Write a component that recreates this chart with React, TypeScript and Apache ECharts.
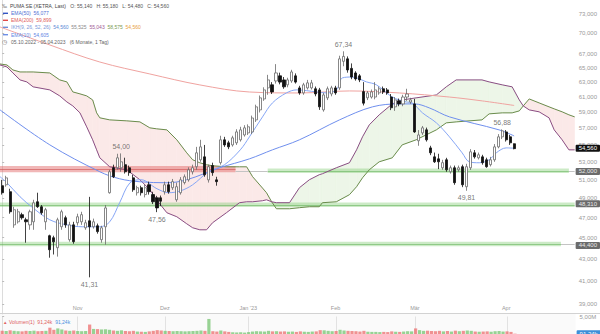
import React, { useEffect, useRef } from 'react';
import * as echarts from 'echarts';

// ---------------- data ----------------
const monthTickIdx = [19, 41, 62, 84, 104, 127];
const monthTickNames = ['Nov', 'Dez', "Jan '23", 'Feb', 'Mär', 'Apr'];
const priceTicks = [73, 70, 67, 65, 63, 61, 59, 57, 55, 53, 51, 49, 47, 45, 43, 41, 39];

// daily OHLC, index 0 = 05.10.2022 ... 129 = 05.04.2023
const opens = [
  50.36, 50.46, 49.71, 46.27, 46.58, 47.3, 46.78, 46.27, 46.58, 48.64,
  48.12, 46.58, 45.2, 45.0, 44.04, 46.08, 46.99, 44.81, 46.27, 46.48,
  46.58, 45.98, 46.68, 46.08, 46.18, 44.81, 46.08, 49.6, 52.35, 52.35,
  52.35, 52.7, 52.35, 51.22, 49.6, 50.14, 49.4, 50.46, 49.4, 49.06,
  49.06, 49.71, 50.46, 50.14, 48.85, 49.6, 50.7, 51.0, 51.9, 52.47,
  53.26, 53.6, 51.0, 52.6, 51.0, 52.93, 55.61, 55.25, 55.0, 55.25,
  55.61, 56.2, 56.45, 56.57, 58.06, 59.33, 60.75, 62.22, 62.63, 63.16,
  63.86, 63.3, 62.63, 63.16, 63.86, 62.22, 61.55, 62.22, 62.22, 62.1,
  61.95, 59.33, 60.89, 61.41, 62.22, 62.22, 65.9, 66.25, 64.9, 64.26,
  63.86, 61.72, 60.9, 61.0, 61.0, 61.55, 62.1, 61.95, 61.0, 59.72,
  60.5, 60.1, 61.0, 60.35, 60.1, 55.5, 56.45, 56.82, 54.65, 53.6,
  53.37, 52.35, 53.26, 51.9, 52.35, 52.12, 52.47, 50.25, 52.35, 54.07,
  53.49, 53.6, 53.26, 52.7, 53.26, 54.77, 55.97, 56.57, 55.97, 55.14,
];
const highs = [
  51.0, 51.45, 50.03, 48.12, 47.9, 47.5, 46.99, 47.81, 48.85, 49.6,
  48.3, 48.0, 45.3, 45.2, 46.99, 47.81, 47.2, 46.58, 46.58, 47.4,
  47.6, 46.78, 49.16, 46.9, 46.4, 46.18, 48.3, 52.12, 52.7, 53.96,
  54.0, 53.5, 52.6, 51.56, 50.36, 50.36, 50.5, 50.8, 49.7, 49.27,
  49.3, 50.8, 50.8, 51.1, 50.7, 51.3, 51.6, 52.4, 52.7, 54.77,
  55.61, 55.0, 52.7, 52.93, 51.34, 56.1, 55.97, 55.5, 56.1, 56.9,
  57.2, 57.4, 57.5, 58.6, 60.0, 61.2, 62.3, 64.0, 63.0, 65.5,
  64.3, 63.7, 63.6, 64.7, 64.2, 62.5, 62.9, 63.3, 63.3, 62.4,
  62.22, 61.55, 62.4, 62.5, 62.5, 66.7, 67.34, 66.6, 65.6, 64.5,
  64.1, 63.0, 61.8, 62.0, 63.0, 62.4, 62.4, 62.2, 61.4, 61.0,
  60.8, 61.3, 62.1, 60.9, 60.75, 56.8, 57.3, 57.1, 54.9, 54.1,
  53.96, 53.26, 53.49, 52.6, 52.6, 52.6, 52.7, 52.8, 54.5, 54.4,
  54.1, 53.84, 53.5, 53.6, 55.1, 56.3, 56.88, 56.8, 56.2, 55.18,
];
const lows = [
  49.4, 50.25, 47.4, 45.98, 46.4, 46.8, 44.52, 45.78, 45.78, 48.0,
  47.3, 45.78, 43.1, 43.4, 43.2, 45.78, 45.98, 44.62, 44.42, 46.2,
  46.27, 45.78, 41.31, 45.9, 45.4, 44.52, 44.33, 49.5, 51.2, 52.12,
  51.9, 51.7, 51.45, 49.7, 49.3, 49.3, 49.1, 49.4, 48.4, 47.56,
  48.2, 49.4, 49.5, 49.9, 48.64, 49.4, 50.5, 50.8, 51.6, 52.12,
  53.03, 51.34, 50.7, 51.45, 50.36, 52.7, 54.77, 54.5, 54.8, 55.0,
  55.4, 56.0, 56.2, 56.3, 57.8, 59.0, 60.5, 61.3, 61.4, 62.8,
  62.7, 62.1, 62.3, 62.9, 62.8, 61.3, 61.3, 62.0, 62.0, 61.1,
  59.33, 59.1, 60.6, 61.1, 61.3, 61.95, 65.2, 64.3, 63.4, 63.2,
  63.0, 59.9, 60.6, 60.8, 60.7, 61.3, 61.4, 61.3, 59.3, 59.2,
  59.8, 59.8, 60.5, 60.1, 56.45, 54.9, 56.2, 55.4, 53.8, 52.9,
  52.2, 52.12, 51.9, 51.7, 50.46, 51.9, 50.2, 49.81, 52.1, 53.4,
  53.3, 52.7, 52.35, 52.5, 53.03, 54.6, 55.7, 55.4, 55.0, 54.48,
];
const closes = [
  49.6, 51.22, 47.6, 47.81, 47.6, 46.99, 46.58, 47.6, 48.53, 48.12,
  47.5, 47.81, 43.85, 44.6, 46.78, 47.6, 46.27, 46.27, 44.62, 47.09,
  47.3, 46.48, 46.08, 46.58, 45.6, 45.98, 48.0, 51.9, 51.34, 53.49,
  53.03, 51.9, 51.8, 49.92, 50.14, 49.6, 50.14, 49.71, 48.64, 48.0,
  48.7, 50.46, 49.71, 50.8, 50.25, 51.0, 51.34, 52.12, 52.35, 54.07,
  54.77, 51.56, 52.47, 51.8, 50.8, 55.61, 55.0, 54.77, 55.85, 56.57,
  56.82, 57.07, 57.2, 58.3, 59.72, 60.89, 61.95, 63.3, 61.68, 64.26,
  63.0, 62.36, 63.3, 64.4, 63.0, 61.55, 62.63, 62.9, 62.9, 61.41,
  59.72, 61.28, 62.1, 62.22, 61.55, 66.25, 66.6, 64.68, 63.7, 63.44,
  63.3, 60.2, 61.55, 61.68, 61.95, 62.1, 61.68, 61.55, 59.6, 60.62,
  60.1, 61.0, 61.4, 60.62, 56.57, 56.2, 57.07, 55.61, 54.07, 53.03,
  53.03, 52.93, 52.12, 52.35, 50.69, 52.35, 50.46, 52.47, 54.19, 53.6,
  53.84, 52.93, 52.47, 53.26, 54.77, 55.97, 56.7, 55.61, 55.25, 54.56,
];
// volume in millions
const volumesM = [
  0.95, 0.85, 1.05, 0.9, 0.8, 0.75, 0.9, 0.85, 0.95, 0.8,
  0.85, 0.9, 1.8, 1.2, 1.6, 1.3, 1.0, 0.9, 1.0, 0.85,
  0.8, 0.85, 2.7, 1.45, 1.4, 1.3, 1.35, 1.2, 1.0, 0.9,
  1.05, 0.85, 0.8, 0.9, 0.7, 0.65, 0.6, 0.75, 0.9, 1.1,
  1.0, 0.9, 0.85, 0.8, 0.85, 0.8, 0.75, 0.8, 0.85, 0.9,
  1.0, 0.9, 4.3, 0.8, 0.7, 1.0, 0.75, 0.6, 0.5, 0.45,
  0.5, 0.4, 0.55, 0.7, 0.8, 0.75, 0.7, 0.9, 0.75, 0.8,
  0.7, 0.75, 0.65, 0.7, 0.6, 0.75, 0.65, 0.6, 0.7, 0.75,
  1.1, 1.05, 0.9, 0.8, 0.85, 1.2, 1.0, 0.9, 0.85, 0.8,
  0.7, 0.9, 0.65, 0.6, 0.6, 0.55, 0.6, 0.55, 0.75, 0.65,
  0.6, 0.7, 0.8, 0.75, 1.6, 1.1, 0.9, 0.95, 0.85, 0.8,
  0.9, 0.75, 0.85, 0.7, 0.95, 0.8, 0.9, 1.0, 0.9, 0.7,
  0.65, 0.7, 0.75, 0.65, 0.8, 0.85, 0.7, 0.75, 0.6, 0.09,
];

// moving averages (read at sample days)
const ema200Idx = [-0.55, 12.0, 24.6, 37.2, 49.8, 62.3, 74.9, 87.5, 100.1, 112.7, 121.0, 129];
const ema200Val = [70.98, 68.27, 65.8, 64.12, 62.62, 61.67, 61.54, 61.81, 61.54, 61.0, 60.49, 59.9];
const ema50Idx = [-0.55, 12.0, 24.6, 29.6, 34.7, 41.5, 46.5, 54.8, 62.3, 68.1, 74.9, 85.0, 93.3, 100.1, 103.9, 107.6, 112.7, 125.2, 129];
const ema50Val = [59.33, 55.01, 51.9, 51.12, 50.79, 50.68, 51.01, 52.35, 53.37, 54.42, 55.61, 58.06, 59.72, 60.1, 60.1, 59.59, 58.44, 56.82, 56.08];
const ema10Idx = [-0.55, 1.2, 4.5, 7.7, 12.0, 16.3, 20.3, 24.6, 27.1, 29.6, 32.2, 35.0, 39.0, 42.0, 45.0, 48.0, 52.0, 56.0, 60.0, 62.3, 65.6, 68.1, 71.6, 74.2, 79.2, 81.7, 84.2, 85.7, 88.2, 91.8, 94.3, 98.3, 101.8, 103.3, 105.9, 109.4, 112.7, 115.9, 117.7, 120.2, 122.7, 124.5, 127.0, 129];
const ema10Val = [51.35, 50.68, 49.17, 48.02, 46.78, 46.27, 46.08, 46.08, 46.58, 48.54, 50.68, 51.01, 50.03, 49.6, 49.81, 50.46, 51.9, 52.69, 54.42, 55.97, 58.44, 60.23, 61.54, 61.95, 61.68, 61.54, 61.95, 63.57, 63.7, 63.03, 62.63, 61.0, 60.36, 60.23, 58.95, 57.69, 55.97, 54.07, 53.03, 52.92, 53.26, 54.07, 54.65, 54.61];

// Ichimoku cloud boundaries (shifted forward), read at sample days
const cloudIdx = [-0.55, 1.2, 2.7, 4.5, 6.2, 7.8, 12.0, 14.5, 16.3, 17.8, 19.6, 21.3, 22.8, 23.8, 24.6, 27.1, 31.4, 34.7, 37.2, 38.9, 41.5, 44.0, 46.5, 48.0, 49.8, 51.5, 53.0, 56.5, 59.8, 61.6, 63.1, 65.6, 66.6, 67.9, 69.1, 72.4, 74.9, 77.4, 79.9, 80.7, 84.2, 87.5, 89.3, 90.8, 92.5, 95.0, 98.3, 100.8, 104.3, 109.4, 111.9, 114.4, 120.9, 122.7, 126.0, 128.5, 130.3, 131.3, 132.8, 135.3, 137.8, 139.1, 141.1, 142.8, 144.25];
const cloudOlive = [65.52, 65.38, 64.68, 64.4, 64.4, 64.4, 64.26, 63.3, 63.03, 61.68, 61.42, 61.15, 60.62, 58.95, 58.32, 58.06, 57.94, 57.81, 57.07, 56.95, 56.82, 55.61, 54.07, 53.26, 52.92, 52.69, 52.58, 52.46, 52.46, 52.46, 51.35, 50.1, 49.6, 48.64, 47.91, 47.91, 48.02, 48.12, 48.12, 48.54, 48.64, 49.39, 50.25, 51.23, 52.12, 53.03, 53.49, 55.01, 55.61, 56.82, 57.69, 57.81, 58.06, 58.82, 58.95, 58.95, 59.2, 59.84, 60.75, 60.23, 59.72, 59.46, 59.08, 58.7, 58.44];
const cloudPurple = [65.38, 65.1, 64.26, 63.3, 63.03, 62.36, 61.95, 61.15, 60.36, 59.84, 58.95, 57.19, 55.61, 54.42, 53.49, 52.46, 52.12, 51.01, 49.92, 48.85, 47.5, 47.09, 46.38, 45.98, 45.78, 45.78, 46.48, 47.5, 48.54, 48.64, 48.64, 48.75, 48.85, 48.64, 48.54, 48.54, 50.14, 51.01, 51.57, 51.68, 52.35, 52.92, 54.42, 55.97, 57.44, 58.7, 60.1, 60.62, 60.89, 61.28, 62.36, 63.3, 63.3, 63.03, 62.63, 62.36, 60.62, 59.84, 59.33, 59.08, 58.32, 56.82, 55.61, 54.42, 54.42];

// annotated extremes
const highLabelIdx = [30, 86, 126];
const highLabelVal = [54.0, 67.34, 56.88];
const lowLabelIdx = [22, 39, 117];
const lowLabelVal = [41.31, 47.56, 49.81];

// support / resistance zones
const zoneStart = [-0.55, 66.9, -0.55, -0.55];
const zoneEnd = [58.8, 142.8, 144.25, 140.8];
const zoneLow = [51.84, 51.75, 48.08, 44.18];
const zoneHigh = [52.55, 52.27, 48.55, 44.62];
const zoneMid = [52.18, 52.0, 48.31, 44.4];
const zoneIsRed = [true, false, false, false];
const connStart = [58.8, 142.8, 140.8];
const connEnd = [66.9, 144.25, 144.25];
const connPrice = [52.0, 52.0, 44.4];

const lastPrice = 54.56;
const levelTags = [52.0, 48.31, 44.4];
const lastVolume = 91240;
const volumeTick = 5e6;

const X_MIN = -0.55;
const X_MAX = 144.25;
const P_MIN = 38.16;
const P_MAX = 75.24;

const FONT = 'Liberation Sans, Arial, Helvetica, sans-serif';

export default function App() {
  const ref = useRef<HTMLDivElement>(null);

  useEffect(() => {
    const el = ref.current;
    if (!el) return;
    const chart = echarts.init(el, null, { renderer: 'svg' });
    const ln = Math.log;
    const fmt3 = (v: number) => v.toFixed(3).replace('.', ',');
    const fmt2 = (v: number) => v.toFixed(2).replace('.', ',');

    const candleData = opens.map((o, i) => [i, ln(o), ln(closes[i]), ln(lows[i]), ln(highs[i])]);
    const volData = volumesM.map((v, i) => ({
      value: [i, v * 1e6],
      itemStyle: { color: closes[i] >= opens[i] ? 'rgba(118,196,112,0.75)' : 'rgba(236,110,110,0.75)' },
    }));
    const cloudSeg: number[][] = [];
    for (let k = 0; k < cloudIdx.length - 1; k++) {
      cloudSeg.push([
        cloudIdx[k], ln(cloudOlive[k]), ln(cloudPurple[k]),
        cloudIdx[k + 1], ln(cloudOlive[k + 1]), ln(cloudPurple[k + 1]),
      ]);
    }
    const lineOf = (idx: number[], vals: number[]) => idx.map((x, k) => [x, ln(vals[k])]);

    const zoneAreas = zoneStart.map((s, k) => [
      { coord: [s, ln(zoneHigh[k])], itemStyle: { color: zoneIsRed[k] ? 'rgba(224,96,96,0.45)' : 'rgba(120,200,105,0.38)' } },
      { coord: [zoneEnd[k], ln(zoneLow[k])] },
    ]);
    const zoneLines = zoneStart.map((s, k) => [
      { coord: [s, ln(zoneMid[k])], lineStyle: { color: zoneIsRed[k] ? 'rgba(205,80,80,0.6)' : 'rgba(95,175,85,0.55)', width: 1, type: 'solid' } },
      { coord: [zoneEnd[k], ln(zoneMid[k])] },
    ]);
    const connLines = connStart.map((s, k) => [
      { coord: [s, ln(connPrice[k])], lineStyle: { color: '#c4c4c4', width: 1, type: 'solid' } },
      { coord: [connEnd[k], ln(connPrice[k])] },
    ]);
    const tagLabel = (text: string, bg: string, fg: string) => ({
      show: true, position: 'end', distance: 1, formatter: text, backgroundColor: bg, color: fg,
      fontSize: 6, fontFamily: FONT, padding: [0.5, 3, 0.5, 3], borderRadius: 1,
    });
    const tags = [
      { yAxis: ln(lastPrice), lineStyle: { color: 'rgba(0,0,0,0)', width: 0 }, label: tagLabel(fmt3(lastPrice), '#111', '#fff') },
      ...levelTags.map((p) => ({ yAxis: ln(p), lineStyle: { color: 'rgba(0,0,0,0)', width: 0 }, label: tagLabel(fmt3(p), '#6b6b6b', '#e8e8e8') })),
    ];

    const extremes = [
      ...highLabelIdx.map((i, k) => ({ value: [i, ln(highLabelVal[k])], name: fmt2(highLabelVal[k]), label: { position: 'top' } })),
      ...lowLabelIdx.map((i, k) => ({ value: [i, ln(lowLabelVal[k])], name: fmt2(lowLabelVal[k]), label: { position: 'bottom' } })),
    ];

    const headerText = (y: number, x: number, text: string, rich: any, size: number, fill: string) => ({
      type: 'text', x, y, z: 100,
      style: { text, fontSize: size, fontFamily: FONT, fill, verticalAlign: 'middle', rich },
    });
    const dash = (y: number, color: string) => ({
      type: 'rect', z: 100, shape: { x: 3, y: y - 0.7, width: 5, height: 1.4 }, style: { fill: color },
    });
    const r = (fill: string) => ({ fill, fontSize: 5, fontFamily: FONT });

    const option: any = {
      animation: false,
      backgroundColor: '#ffffff',
      textStyle: { fontFamily: FONT },
      grid: [
        { left: 0, top: 0, width: 575.6, height: 314 },
        { left: 0, top: 316.5, width: 575.6, height: 17.5 },
      ],
      xAxis: [
        {
          type: 'value', gridIndex: 0, min: X_MIN, max: X_MAX,
          axisLine: { show: false }, axisTick: { show: false }, splitLine: { show: false },
          axisLabel: {
            inside: true, margin: 3, customValues: monthTickIdx,
            formatter: (v: number) => { const k = monthTickIdx.indexOf(v); return k >= 0 ? monthTickNames[k] : ''; },
            fontSize: 5.5, color: '#999', fontFamily: FONT,
          },
        },
        { type: 'value', gridIndex: 1, min: X_MIN, max: X_MAX, show: false },
      ],
      yAxis: [
        {
          type: 'value', gridIndex: 0, position: 'right', min: ln(P_MIN), max: ln(P_MAX),
          splitLine: { show: false },
          axisLine: { show: true, lineStyle: { color: '#dcdcdc' } },
          axisTick: { show: true, length: 2, customValues: priceTicks.map(ln), lineStyle: { color: '#bbbbbb' } },
          axisLabel: {
            customValues: priceTicks.map(ln),
            formatter: (v: number) => `${Math.round(Math.exp(v))},000`,
            fontSize: 6, color: '#999', margin: 4, fontFamily: FONT,
          },
        },
        {
          type: 'value', gridIndex: 1, position: 'right', min: 0, max: volumeTick,
          splitLine: { show: false },
          axisLine: { show: true, lineStyle: { color: '#dcdcdc' } },
          axisTick: { show: true, length: 2, customValues: [volumeTick], lineStyle: { color: '#bbbbbb' } },
          axisLabel: {
            customValues: [volumeTick],
            formatter: (v: number) => `${fmt2(v / 1e6)}M`,
            fontSize: 6, color: '#999', margin: 4, fontFamily: FONT,
          },
        },
      ],
      series: [
        {
          type: 'custom', xAxisIndex: 0, yAxisIndex: 0, z: 1, silent: true, clip: true,
          data: cloudSeg,
          encode: { x: [0, 3], y: [1, 2, 4, 5] },
          renderItem: (_p: any, api: any) => {
            const x0 = api.value(0), o0 = api.value(1), p0 = api.value(2);
            const x1 = api.value(3), o1 = api.value(4), p1 = api.value(5);
            const fill = o0 + o1 >= p0 + p1 ? '#fbe9e8' : '#edf6e8';
            return {
              type: 'polygon',
              shape: { points: [api.coord([x0, o0]), api.coord([x1, o1]), api.coord([x1, p1]), api.coord([x0, p0])] },
              style: { fill, stroke: fill, lineWidth: 0.6 },
            };
          },
        },
        {
          type: 'line', xAxisIndex: 0, yAxisIndex: 0, data: [], z: 2, silent: true,
          markArea: { silent: true, z: 2, data: zoneAreas },
          markLine: {
            silent: true, z: 2, symbol: ['none', 'none'], label: { show: false },
            data: [...zoneLines, ...connLines],
          },
        },
        {
          type: 'line', data: lineOf(cloudIdx, cloudOlive), z: 2, silent: true, symbol: 'none',
          lineStyle: { color: '#6a8c4c', width: 1 },
        },
        {
          type: 'line', data: lineOf(cloudIdx, cloudPurple), z: 2, silent: true, symbol: 'none',
          lineStyle: { color: '#8a4e84', width: 1 },
        },
        {
          type: 'line', data: lineOf(ema200Idx, ema200Val), z: 3, silent: true, symbol: 'none', smooth: 0.35,
          lineStyle: { color: '#f0a3a0', width: 1 },
        },
        {
          type: 'line', data: lineOf(ema50Idx, ema50Val), z: 3, silent: true, symbol: 'none', smooth: 0.35,
          lineStyle: { color: '#6f8fee', width: 1 },
        },
        {
          type: 'line', data: lineOf(ema10Idx, ema10Val), z: 3, silent: true, symbol: 'none', smooth: 0.35,
          lineStyle: { color: '#86a6f6', width: 1 },
        },
        {
          type: 'candlestick', xAxisIndex: 0, yAxisIndex: 0, z: 4, silent: true,
          data: candleData, barWidth: 2.6,
          itemStyle: { color: '#ffffff', color0: '#111111', borderColor: '#6a6a6a', borderColor0: '#111111', borderWidth: 0.8 },
        },
        {
          type: 'scatter', xAxisIndex: 0, yAxisIndex: 0, z: 6, silent: true, symbolSize: 1,
          itemStyle: { color: 'rgba(0,0,0,0)' },
          data: extremes,
          label: { show: true, formatter: '{b}', fontSize: 7, color: '#555', distance: 3, fontFamily: FONT },
        },
        {
          type: 'line', xAxisIndex: 0, yAxisIndex: 0, data: [], z: 20, silent: true,
          markLine: {
            silent: true, z: 20, symbol: ['none', 'none'],
            data: tags,
          },
        },
        {
          type: 'bar', xAxisIndex: 1, yAxisIndex: 1, z: 3, silent: true, barWidth: 3.2,
          data: volData,
          markLine: {
            silent: true, symbol: ['none', 'none'], z: 1,
            data: [
              ...monthTickIdx.map((i) => ({ xAxis: i, lineStyle: { color: '#e2e2e2', width: 1, type: 'solid' }, label: { show: false } })),
              { yAxis: lastVolume, lineStyle: { color: 'rgba(0,0,0,0)', width: 0 }, label: tagLabel(`${fmt2(lastVolume / 1000)}k`, '#3d8fd8', '#ffffff') },
            ],
          },
        },
      ],
      graphic: [
        { type: 'rect', z: -10, shape: { x: 0, y: 314, width: 575.6, height: 20 }, style: { fill: '#fafafa' } },
        { type: 'line', z: 50, shape: { x1: 0, y1: 313.5, x2: 600, y2: 313.5 }, style: { stroke: '#d2d2d2', lineWidth: 1 } },
        headerText(5.7, 2, '‰', null, 5, '#777'),
        headerText(5.7, 10, '{a|PUMA SE (XETRA, Last)}   {b|O: 55,140   H: 55,180   L: 54,480   C: 54,560}', {
          a: r('#444'), b: r('#555'),
        }, 5, '#444'),
        dash(13.3, '#3355c4'),
        headerText(13.3, 11, '{a|EMA(50)}  {a|56,077}', { a: r('#5070d3') }, 5, '#5070d3'),
        dash(20.3, '#e04848'),
        headerText(20.3, 11, '{a|EMA(200)}  {a|59,899}', { a: r('#e05a5a') }, 5, '#e05a5a'),
        dash(27.3, '#6d8ddb'),
        headerText(27.3, 11, '{a|IKH(9, 26, 52, 26)}  {b|54,560}  {c|55,525}  {d|55,043}  {e|58,575}  {f|54,560}', {
          a: r('#7b97d8'), b: r('#5b8ad6'), c: r('#8a8a8a'), d: r('#a05a96'), e: r('#7a9a52'), f: r('#e8a040'),
        }, 5, '#7b97d8'),
        dash(34.7, '#6d8ee6'),
        headerText(34.7, 11, '{a|EMA(10)}  {a|54,605}', { a: r('#5f86e4') }, 5, '#5f86e4'),
        headerText(42.3, 2, '◷', null, 6, '#666'),
        headerText(42.3, 11, '{a|05.10.2022 - 05.04.2023}   {a|(6 Monate, 1 Tag)}', { a: r('#666') }, 5, '#666'),
        headerText(322, 3, '▲', null, 4.5, '#e06262'),
        headerText(322, 9, '{a|Volumen(1)  91,24k}  {b|91,24k}', { a: r('#e06262'), b: r('#4a90e0') }, 5, '#e06262'),
      ],
    };

    chart.setOption(option);
    return () => chart.dispose();
  }, []);

  return (
    <div
      ref={ref}
      style={{ position: 'fixed', left: 0, top: 0, width: 600, height: 334, background: '#fff' }}
    />
  );
}
